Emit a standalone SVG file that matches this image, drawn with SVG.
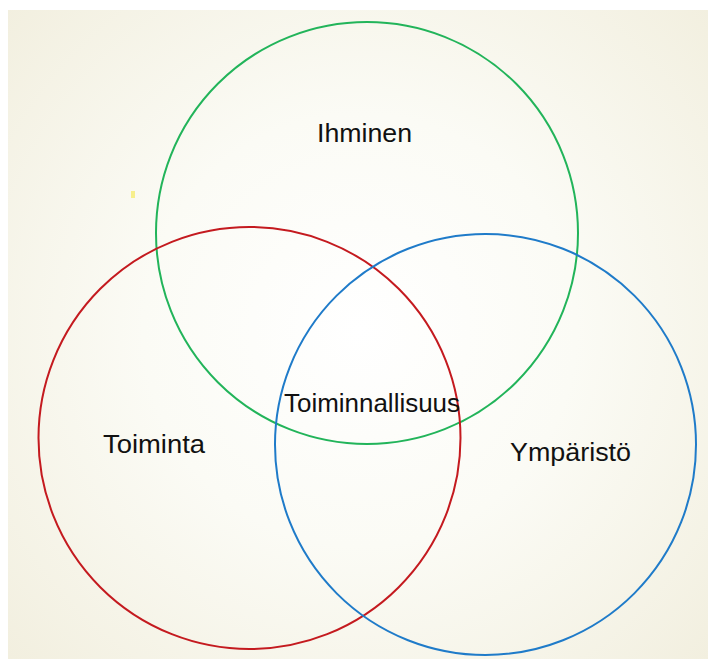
<svg xmlns="http://www.w3.org/2000/svg" width="708" height="659" viewBox="0 0 708 659">
  <defs>
    <radialGradient id="bg" cx="360" cy="330" r="480" gradientUnits="userSpaceOnUse">
      <stop offset="0" stop-color="#ffffff"/>
      <stop offset="0.45" stop-color="#fbfbf5"/>
      <stop offset="1" stop-color="#f2efdf"/>
    </radialGradient>
    <style>
      .c { fill: none; stroke-width: 2; }
      .t { font-family: "Liberation Sans", "DejaVu Sans", sans-serif; font-size: 25px; fill: #111111; }
    </style>
  </defs>
  <rect x="0" y="0" width="708" height="659" fill="#ffffff"/>
  <rect x="8" y="10" width="700" height="649" fill="url(#bg)"/>
  <rect x="131" y="191" width="4" height="7" fill="#f7ef8c"/>
  <g id="connectors"/>
  <g id="ihminen">
    <circle class="c" cx="367" cy="233" r="211" stroke="#22b45a"/>
    <text class="t" x="317" y="142" textLength="95" lengthAdjust="spacingAndGlyphs">Ihminen</text>
  </g>
  <g id="toiminta">
    <circle class="c" cx="249.5" cy="438" r="211" stroke="#c41a1f"/>
    <text class="t" x="103" y="453" textLength="102" lengthAdjust="spacingAndGlyphs">Toiminta</text>
  </g>
  <g id="ymparisto">
    <circle class="c" cx="485.5" cy="444.5" r="210.5" stroke="#1f7bc9"/>
    <text class="t" x="510" y="461" textLength="121" lengthAdjust="spacingAndGlyphs">Ympäristö</text>
  </g>
  <g id="toiminnallisuus">
    <text class="t" x="284" y="412" textLength="176" lengthAdjust="spacingAndGlyphs">Toiminnallisuus</text>
  </g>
</svg>
